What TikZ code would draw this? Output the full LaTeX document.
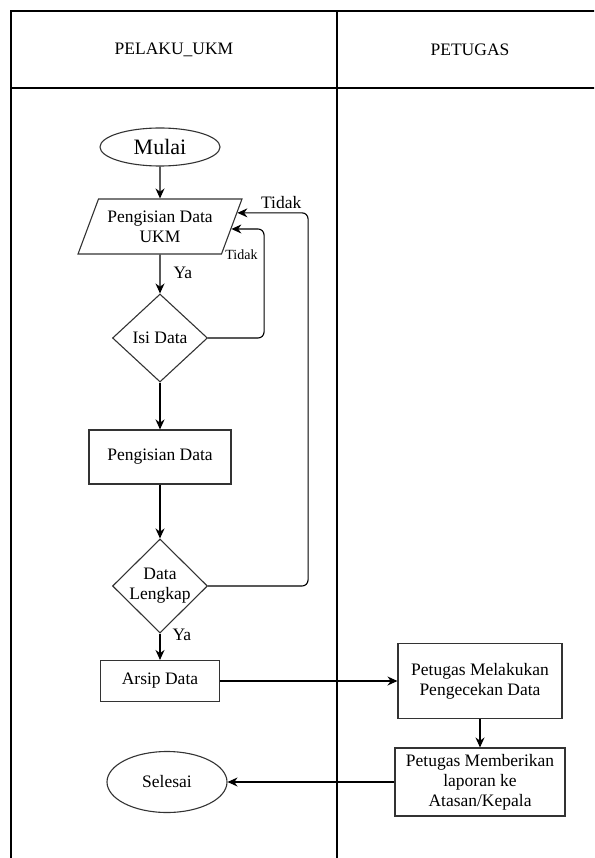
\documentclass[tikz,border=0pt]{standalone}
\usepackage{fontspec}
\setmainfont{Liberation Serif}
\usetikzlibrary{shapes.geometric,arrows.meta}
\begin{document}
\begin{tikzpicture}[x=1pt,y=-1pt,
  font=\rmfamily\fontsize{17.5}{20}\selectfont,
  kotak/.style={draw=black!80,line width=1.1pt,align=center,inner sep=2pt},
  proses/.style={kotak,rectangle},
  terminal/.style={kotak,ellipse},
  kondisi/.style={kotak,diamond,aspect=1,inner sep=0pt},
  inputan/.style={kotak,trapezium,trapezium left angle=63,trapezium right angle=117,trapezium stretches=true},
  alur/.style={-{Stealth[length=10pt,width=9pt]},line width=1.1pt},
  alurtebal/.style={alur,line width=2pt},
  ket/.style={inner sep=2pt}]
\useasboundingbox (0,0) rectangle (594,858);
\clip (0,0) rectangle (594,858);
% swimlane
\draw[line width=1.2pt] (11,11) rectangle (605,870);
\draw[line width=1.2pt] (11,88)--(605,88);
\foreach \x in {337} \draw[line width=1.2pt] (\x,11)--(\x,870);
\node (pelaku) at (174,50) {PELAKU\_UKM};
\node (petugas) at (470,50) {PETUGAS};
% kolom pelaku ukm
\node[terminal,minimum width=120pt,minimum height=38pt,font=\rmfamily\fontsize{22}{24}\selectfont] (mulai) at (160,147) {Mulai};
\node[inputan,minimum width=164pt,minimum height=55pt] (input) at (160,226.5) {Pengisian Data\\UKM};
\node[kondisi,minimum width=95pt,minimum height=88pt] (isi) at (160,338) {Isi Data};
\node[proses,minimum width=142pt,minimum height=54pt] (isian) at (160,457) {Pengisian Data};
\node[kondisi,inner sep=-3pt,minimum width=95pt,minimum height=94pt] (lengkap) at (160,586) {Data\\Lengkap};
\node[proses,minimum width=119pt,minimum height=41pt] (arsip) at (160,681) {Arsip Data};
\node[terminal,minimum width=120pt,minimum height=61pt] (selesai) at (167,782) {Selesai};
% kolom petugas
\node[proses,minimum width=164pt,minimum height=75pt] (cek) at (480,681) {Petugas Melakukan\\Pengecekan Data};
\node[proses,minimum width=170pt,minimum height=68pt] (lapor) at (480,782) {Petugas Memberikan\\laporan ke\\Atasan/Kepala};
% alur
\draw[alur] (mulai) -- (input);
\draw[alur] (input) -- node[ket,pos=.47,anchor=west,xshift=11pt] (ya1) {Ya} (isi);
\draw[alur,rounded corners=6pt] (isi.east) -- ++(56,0) |- node[ket,pos=.38,anchor=east,xshift=-4pt,font=\rmfamily\fontsize{14}{16}\selectfont] (tidak1) {Tidak} (input.-2);
\draw[alurtebal] (isi) -- (isian);
\draw[alurtebal] (isian) -- (lengkap);
\draw[alur,rounded corners=6pt] (lengkap.east) -- ++(100,0) |- node[ket,pos=.69,anchor=south,yshift=2pt] (tidak2) {Tidak} (input.10);
\draw[alur] (lengkap) -- node[ket,pos=.05,anchor=west,xshift=10pt] (ya2) {Ya} (arsip);
\draw[alur] (arsip) -- (cek);
\draw[alur] (cek) -- (lapor);
\draw[alur] (lapor) -- (selesai);
\end{tikzpicture}
\end{document}
